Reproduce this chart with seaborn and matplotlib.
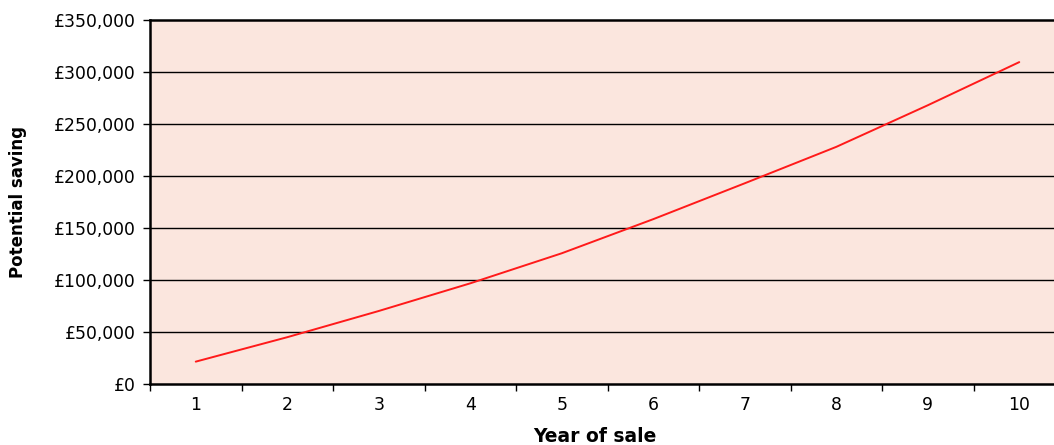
import matplotlib
matplotlib.use("Agg")
import matplotlib.pyplot as plt
import seaborn as sns
import pandas as pd
from matplotlib.ticker import FuncFormatter

years = [1, 2, 3, 4, 5, 6, 7, 8, 9, 10]
saving = [21500, 45000, 70200, 96800, 125700, 158500, 193000, 228000, 268000, 309500]
y_ticks = [0, 50000, 100000, 150000, 200000, 250000, 300000, 350000]

sns.set_theme(style="white")
plt.rcParams['font.family'] = ['DejaVu Sans']

df = pd.DataFrame({"year": years, "saving": saving})

fig = plt.figure(figsize=(10.54, 4.45), dpi=100)
W, H = 1054, 445
left, right, top, bottom = 150, 1065, 20, 384
ax = fig.add_axes([left / W, (H - bottom) / H, (right - left) / W, (bottom - top) / H])
ax.set_facecolor("#FBE6DE")

for v in y_ticks[1:-1]:
    ax.axhline(v, color="black", lw=1.0, zorder=1)

sns.lineplot(data=df, x="year", y="saving", ax=ax, color="#FF1A1A", lw=1.4, zorder=3)

ax.set_xlim(0.5, 10.5)
ax.set_ylim(0, 350000)
ax.set_yticks(y_ticks)
ax.yaxis.set_major_formatter(FuncFormatter(lambda v, p: f"£{int(v):,}"))

ax.set_xticks([x + 0.5 for x in range(0, 11)])
ax.set_xticklabels([])
ax.set_xticks(years, minor=True)
ax.set_xticklabels([str(y) for y in years], minor=True)
ax.tick_params(axis="x", which="minor", length=0, pad=9, labelsize=12.4, colors="black")
ax.tick_params(axis="x", which="major", length=5, width=1, direction="out", color="black")
ax.tick_params(axis="y", length=5, width=1, direction="out", color="black", labelsize=12.4, labelcolor="black", pad=5)
ax.tick_params(bottom=True, left=True, which="both")

for s in ["left", "bottom", "top"]:
    ax.spines[s].set_color("black")
    ax.spines[s].set_linewidth(1.8)
ax.spines["right"].set_visible(False)

ax.set_xlabel("Year of sale", fontsize=13.5, fontweight="bold", color="black")
ax.xaxis.set_label_coords((595 - 150) / 915, -(437 - 384) / 364)
ax.xaxis.label.set_va("center")
ax.set_ylabel("Potential saving", fontsize=12, fontweight="bold", color="black")
ax.yaxis.set_label_coords(-(150 - 18) / 915, 0.5)
ax.yaxis.label.set_va("center")

fig.savefig("out.png", dpi=100)
